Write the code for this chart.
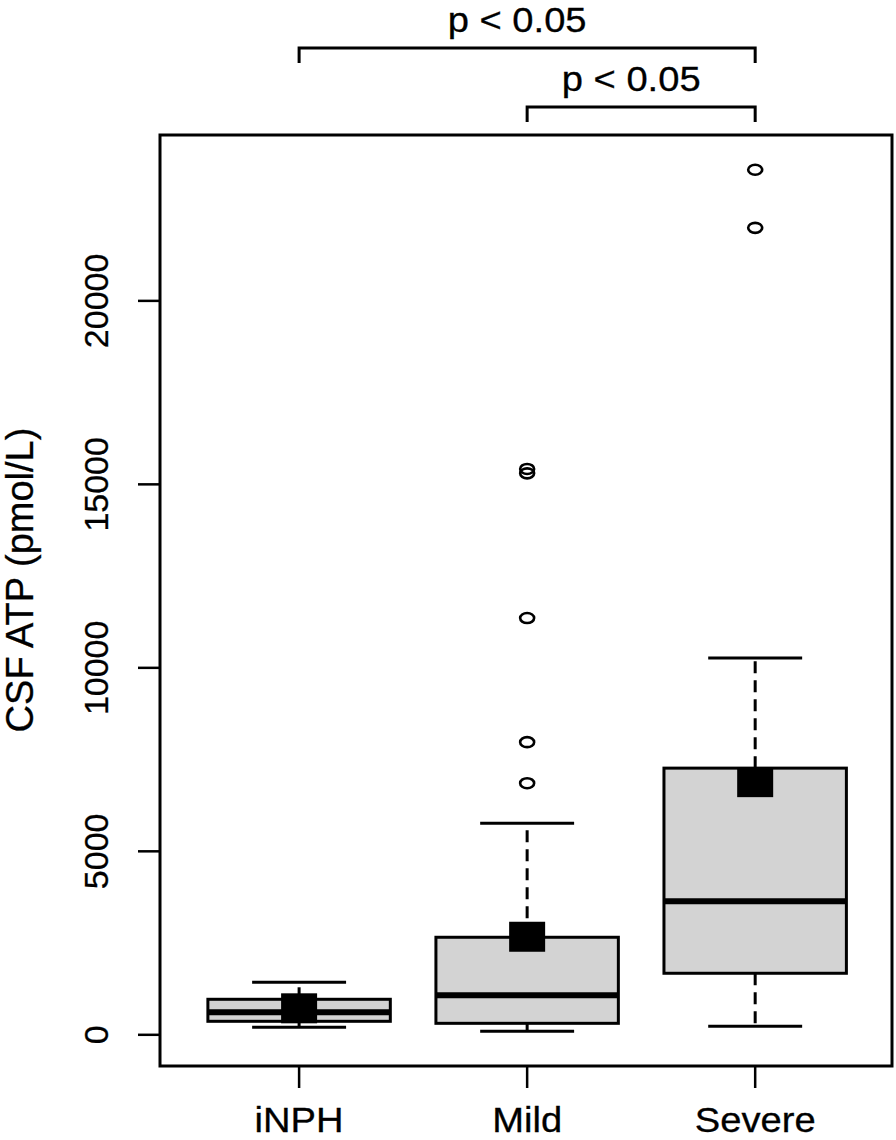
<!DOCTYPE html>
<html>
<head>
<meta charset="utf-8">
<script src="https://cdn.jsdelivr.net/npm/d3@7"></script>
<style>
  body { margin: 0; background: #fff; }
  text { font-family: "Liberation Sans", Arial, sans-serif; fill: #000; stroke: #000; stroke-width: 0.3px; }
</style>
</head>
<body>
<script>
const width = 896;
const height = 1140;

// values
const groups = ["iNPH", "Mild", "Severe"];
const whiskLo = [204, 95, 232];
const q1 = [368, 313, 1677];
const medians = [613, 1077, 3640];
const q3 = [968, 2658, 7267];
const whiskHi = [1431, 5767, 10266];
const means = [722, 2672, 6885];
const outlierGroup = [1, 1, 1, 1, 1, 2, 2];
const outlierValue = [6857, 7975, 11357, 15300, 15420, 21990, 23573];
const yTicks = [0, 5000, 10000, 15000, 20000];
const comparisons = [[0, 2], [1, 2]];
const pLabels = ["p < 0.05", "p < 0.05"];

const plot = { left: 160, right: 892, top: 135, bottom: 1066 };
const sx = 1.09; // horizontal stretch of the original text

const svg = d3
  .select("body")
  .append("svg")
  .attr("width", width)
  .attr("height", height);

const xScale = d3
  .scaleLinear()
  .domain([-0.61, 2.6])
  .range([plot.left, plot.right]);

const yScale = d3
  .scaleLinear()
  .domain([-850, 24520])
  .range([plot.bottom, plot.top]);

const unit = xScale(1) - xScale(0);
const boxW = unit * 0.8;
const capW = boxW * 0.515;

const stats = groups.map((g, i) => ({
  name: g,
  i: i,
  lo: whiskLo[i],
  q1: q1[i],
  med: medians[i],
  q3: q3[i],
  hi: whiskHi[i],
  mean: means[i],
}));

// boxes
const box = svg.append("g").selectAll("g").data(stats).enter().append("g");

box
  .append("line")
  .attr("x1", (d) => xScale(d.i))
  .attr("x2", (d) => xScale(d.i))
  .attr("y1", (d) => yScale(d.q3))
  .attr("y2", (d) => yScale(d.hi))
  .attr("stroke", "#000")
  .attr("stroke-width", 3)
  .attr("stroke-dasharray", "12,7");

box
  .append("line")
  .attr("x1", (d) => xScale(d.i))
  .attr("x2", (d) => xScale(d.i))
  .attr("y1", (d) => yScale(d.q1))
  .attr("y2", (d) => yScale(d.lo))
  .attr("stroke", "#000")
  .attr("stroke-width", 3)
  .attr("stroke-dasharray", "12,7");

["lo", "hi"].forEach((k) => {
  box
    .append("line")
    .attr("x1", (d) => xScale(d.i) - capW / 2)
    .attr("x2", (d) => xScale(d.i) + capW / 2)
    .attr("y1", (d) => yScale(d[k]))
    .attr("y2", (d) => yScale(d[k]))
    .attr("stroke", "#000")
    .attr("stroke-width", 3);
});

box
  .append("rect")
  .attr("x", (d) => xScale(d.i) - boxW / 2)
  .attr("width", boxW)
  .attr("y", (d) => yScale(d.q3))
  .attr("height", (d) => yScale(d.q1) - yScale(d.q3))
  .attr("fill", "#d3d3d3")
  .attr("stroke", "#000")
  .attr("stroke-width", 3);

box
  .append("line")
  .attr("x1", (d) => xScale(d.i) - boxW / 2)
  .attr("x2", (d) => xScale(d.i) + boxW / 2)
  .attr("y1", (d) => yScale(d.med))
  .attr("y2", (d) => yScale(d.med))
  .attr("stroke", "#000")
  .attr("stroke-width", 6);

// means
box
  .append("rect")
  .attr("x", (d) => xScale(d.i) - 18)
  .attr("y", (d) => yScale(d.mean) - 15)
  .attr("width", 36)
  .attr("height", 30)
  .attr("fill", "#000");

// outliers
svg
  .append("g")
  .selectAll("ellipse")
  .data(outlierValue)
  .enter()
  .append("ellipse")
  .attr("cx", (d, i) => xScale(outlierGroup[i]))
  .attr("cy", (d) => yScale(d))
  .attr("rx", 7)
  .attr("ry", 5)
  .attr("fill", "none")
  .attr("stroke", "#000")
  .attr("stroke-width", 2.6);

// frame
svg
  .append("rect")
  .attr("x", plot.left)
  .attr("y", plot.top)
  .attr("width", plot.right - plot.left)
  .attr("height", plot.bottom - plot.top)
  .attr("fill", "none")
  .attr("stroke", "#000")
  .attr("stroke-width", 3);

// y axis
const yAxis = svg.append("g");
yAxis
  .selectAll("line")
  .data(yTicks)
  .enter()
  .append("line")
  .attr("x1", plot.left - 22)
  .attr("x2", plot.left)
  .attr("y1", (d) => yScale(d))
  .attr("y2", (d) => yScale(d))
  .attr("stroke", "#000")
  .attr("stroke-width", 2.5);

yAxis
  .selectAll("text")
  .data(yTicks)
  .enter()
  .append("text")
  .attr("transform", (d) => `translate(108, ${yScale(d)}) rotate(-90)`)
  .attr("text-anchor", "middle")
  .attr("font-size", 34)
  .text((d) => d);

svg
  .append("text")
  .attr("transform", "translate(33, 580) rotate(-90)")
  .attr("text-anchor", "middle")
  .attr("font-size", 38)
  .text("CSF ATP (pmol/L)");

// x axis
const xAxis = svg.append("g");
xAxis
  .selectAll("line")
  .data(groups)
  .enter()
  .append("line")
  .attr("x1", (d, i) => xScale(i))
  .attr("x2", (d, i) => xScale(i))
  .attr("y1", plot.bottom)
  .attr("y2", plot.bottom + 22)
  .attr("stroke", "#000")
  .attr("stroke-width", 2.5);

xAxis
  .selectAll("text")
  .data(groups)
  .enter()
  .append("text")
  .attr("transform", (d, i) => `translate(${xScale(i)}, 1132) scale(${sx},1)`)
  .attr("text-anchor", "middle")
  .attr("font-size", 35)
  .text((d) => d);

// significance brackets
const bracketY = [48, 107];
const bracket = svg
  .append("g")
  .selectAll("g")
  .data(comparisons)
  .enter()
  .append("g");

bracket
  .append("path")
  .attr(
    "d",
    (d, i) =>
      `M${xScale(d[0])},${bracketY[i] + 15}V${bracketY[i]}H${xScale(d[1])}V${bracketY[i] + 15}`
  )
  .attr("fill", "none")
  .attr("stroke", "#000")
  .attr("stroke-width", 3);

bracket
  .append("text")
  .attr(
    "transform",
    (d, i) =>
      `translate(${(xScale(d[0]) + xScale(d[1])) / 2 - 10}, ${bracketY[i] - 16}) scale(${sx},1)`
  )
  .attr("text-anchor", "middle")
  .attr("font-size", 35)
  .text((d, i) => pLabels[i]);
</script>
</body>
</html>
